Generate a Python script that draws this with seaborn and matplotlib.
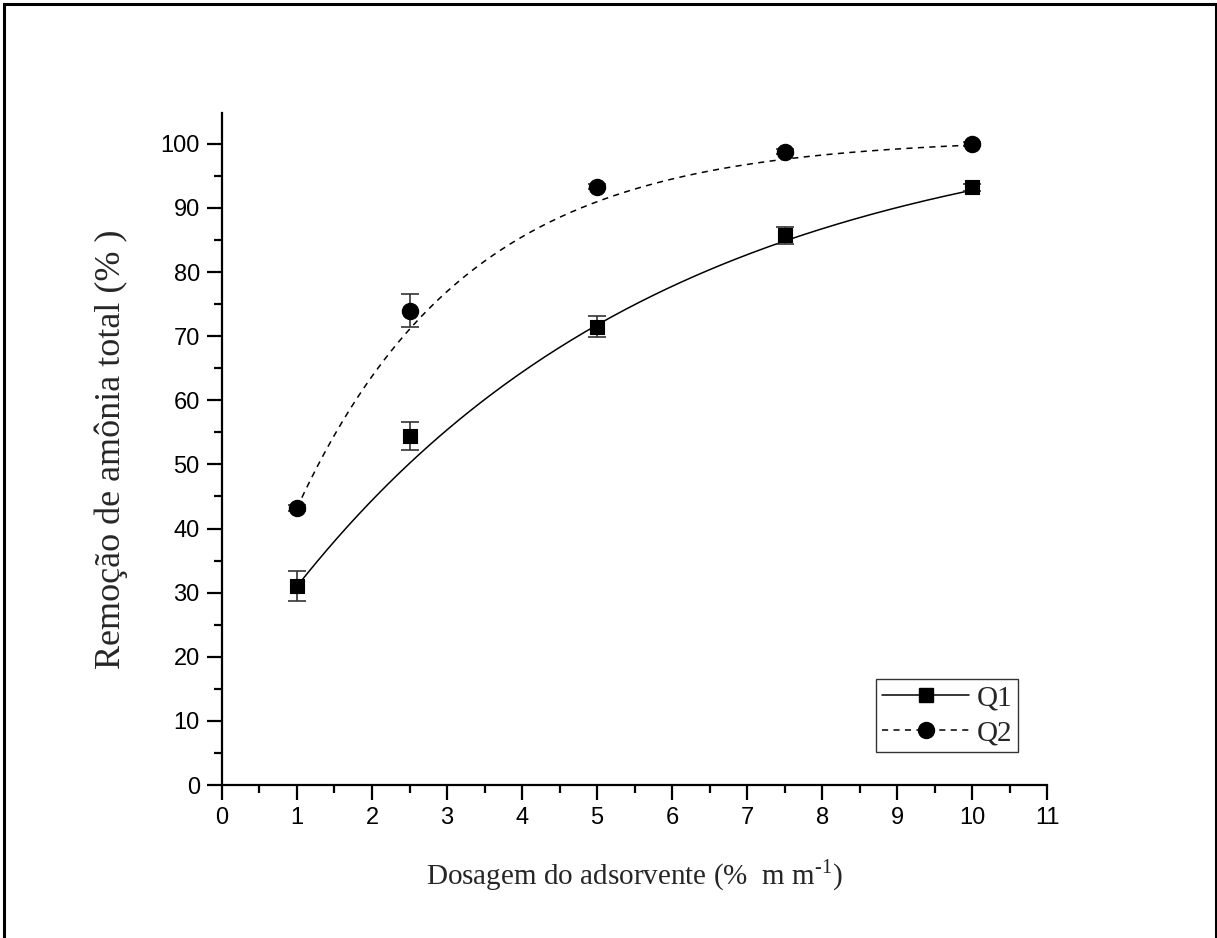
import numpy as np
import pandas as pd
import matplotlib
matplotlib.use("Agg")
import matplotlib.pyplot as plt
import seaborn as sns
from matplotlib.ticker import MultipleLocator
from matplotlib.patches import Rectangle
from matplotlib.lines import Line2D

# ---- data ----
dose = [1, 2.5, 5, 7.5, 10]
q1 = [31.0, 54.4, 71.5, 85.7, 93.2]
q1_err = [2.3, 2.2, 1.6, 1.4, 0.5]
q2 = [43.2, 74.0, 93.3, 98.8, 100.0]
q2_err = [0.4, 2.6, 0.4, 0.4, 0.3]
series_names = ["Q1", "Q2"]
x_ticks = list(range(0, 12))
y_ticks = list(range(0, 101, 10))
# fitted curves y = a - b*exp(-k*x), parameters
fit_a = [105.0, 100.9]
fit_b = [90.4, 89.6]
fit_k = [0.20, 0.44]

sns.set_theme(style="ticks")
plt.rcParams["font.family"] = ["Liberation Sans", "DejaVu Sans"]
plt.rcParams["mathtext.fontset"] = "custom"
plt.rcParams["mathtext.rm"] = "Liberation Serif"

fig = plt.figure(figsize=(12.17, 9.38), dpi=100)
ax = fig.add_axes([0.1824, 0.1631, 0.678, 0.7164])

xs = np.linspace(min(dose), max(dose), 200)
curves = []
for name, a, b, k in zip(series_names, fit_a, fit_b, fit_k):
    curves.append(pd.DataFrame({"x": xs, "y": a - b * np.exp(-k * xs), "s": name}))
fit_df = pd.concat(curves, ignore_index=True)
dash = (0, (4, 3.5))
sns.lineplot(data=fit_df[fit_df.s == "Q1"], x="x", y="y", ax=ax,
             color="black", lw=1.1, legend=False)
sns.lineplot(data=fit_df[fit_df.s == "Q2"], x="x", y="y", ax=ax,
             color="black", lw=1.1, linestyle=dash, legend=False)

ax.errorbar(dose, q1, yerr=q1_err, fmt="none", ecolor="#333333",
            elinewidth=1.2, capsize=6.5, capthick=1.2, zorder=3)
ax.errorbar(dose, q2, yerr=q2_err, fmt="none", ecolor="#333333",
            elinewidth=1.2, capsize=6.5, capthick=1.2, zorder=3)

pts = pd.DataFrame({"x": dose + dose, "y": q1 + q2,
                    "s": [series_names[0]] * 5 + [series_names[1]] * 5})
sns.scatterplot(data=pts[pts.s == "Q1"], x="x", y="y", ax=ax, marker="s",
                s=100, color="black", edgecolor="black", zorder=4, legend=False)
sns.scatterplot(data=pts[pts.s == "Q2"], x="x", y="y", ax=ax, marker="o",
                s=135, color="black", edgecolor="black", zorder=4, legend=False)

ax.set_xlim(0, 11)
ax.set_ylim(0, 104.8)
ax.set_xticks(x_ticks)
ax.set_yticks(y_ticks)
ax.xaxis.set_minor_locator(MultipleLocator(0.5))
ax.yaxis.set_minor_locator(MultipleLocator(5))
ax.tick_params(which="major", direction="out", length=11, width=1.6,
               labelsize=17, color="black", labelcolor="black", pad=5)
ax.tick_params(which="minor", direction="out", length=6, width=1.6,
               color="black")
for side in ["top", "right"]:
    ax.spines[side].set_visible(False)
for side in ["left", "bottom"]:
    ax.spines[side].set_linewidth(1.6)
    ax.spines[side].set_color("black")

serif = ["Liberation Serif", "DejaVu Serif"]
ax.set_xlabel(r"Dosagem do adsorvente (%  m m$^{\text{-1}}$)",
              family=serif, fontsize=21, labelpad=20)
ax.set_ylabel("Remoção de amônia total (% )", family=serif, fontsize=26,
              labelpad=23)

handles = [
    Line2D([], [], color="black", lw=1.1, marker="s", markersize=10),
    Line2D([], [], color="black", lw=1.1, linestyle=dash,
           marker="o", markersize=11.5),
]
leg = ax.legend(handles, series_names, loc="lower right",
                bbox_to_anchor=(0.965, 0.049), prop={"family": serif, "size": 21},
                frameon=True, fancybox=False, edgecolor="black",
                handlelength=3.0, handletextpad=0.25, borderpad=0.2,
                labelspacing=0.3, borderaxespad=0)
leg.get_frame().set_linewidth(1.0)

fig.patches.append(Rectangle((4 / 1217, -0.01), (1212 / 1217), 1.0 - 4 / 938 + 0.01,
                             transform=fig.transFigure, fill=False,
                             edgecolor="black", lw=2.2))

fig.savefig("out.png", dpi=100)
